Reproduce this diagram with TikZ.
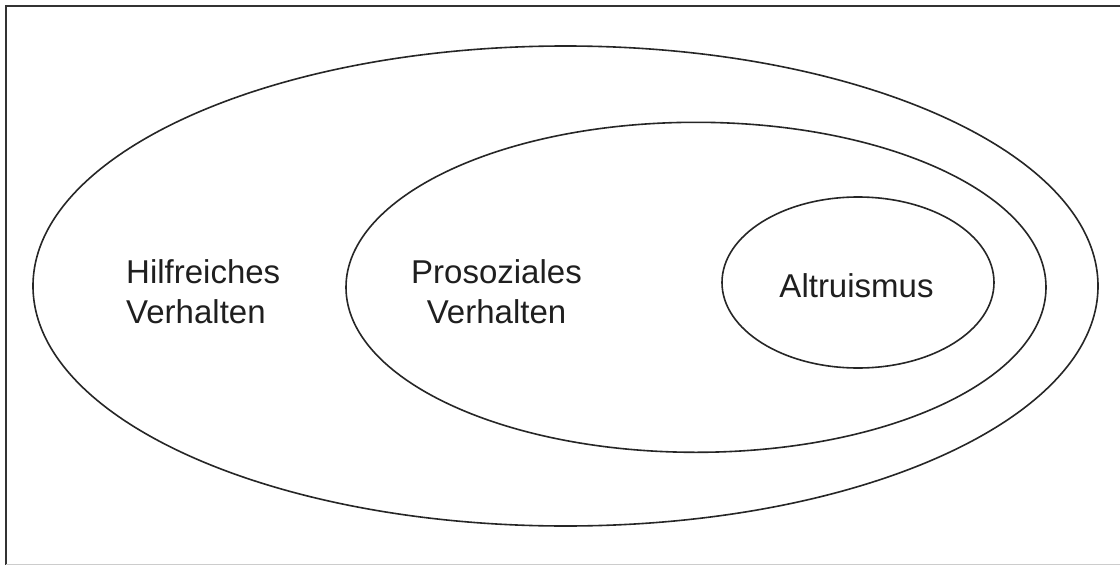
\documentclass[tikz,border=0pt]{standalone}
\usepackage{fontspec}
\setmainfont{Liberation Sans}
\begin{document}
\begin{tikzpicture}[x=1pt,y=-1pt,
  ring/.style={draw=black!85,line width=1.6pt},
  lbl/.style={inner sep=0pt,text=black!88,font=\fontsize{33}{40}\selectfont}]
\useasboundingbox (0,0) rectangle (1120,565);
\fill[white] (0,0) rectangle (1120,565);
% frame
\draw[black!80,line width=2.4pt] (6.2,565) -- (6.2,5.7) -- (1120,5.7);
\draw[black!20,line width=1pt] (6.2,564) -- (1120,564);
% ellipses
\draw[ring] (565.5,286) ellipse [x radius=532.5pt, y radius=240pt];
\draw[ring] (696,287.3) ellipse [x radius=350pt, y radius=165pt];
\draw[ring] (858,282.5) ellipse [x radius=136pt, y radius=85.5pt];
% labels
\node[lbl,align=left,anchor=base west] (hilf) at (126,323) {Hilfreiches\\Verhalten};
\node[lbl,align=center,anchor=base] (proso) at (496.5,323) {Prosoziales\\Verhalten};
\node[lbl,anchor=base] (altr) at (856.5,297) {Altruismus};
\end{tikzpicture}
\end{document}
